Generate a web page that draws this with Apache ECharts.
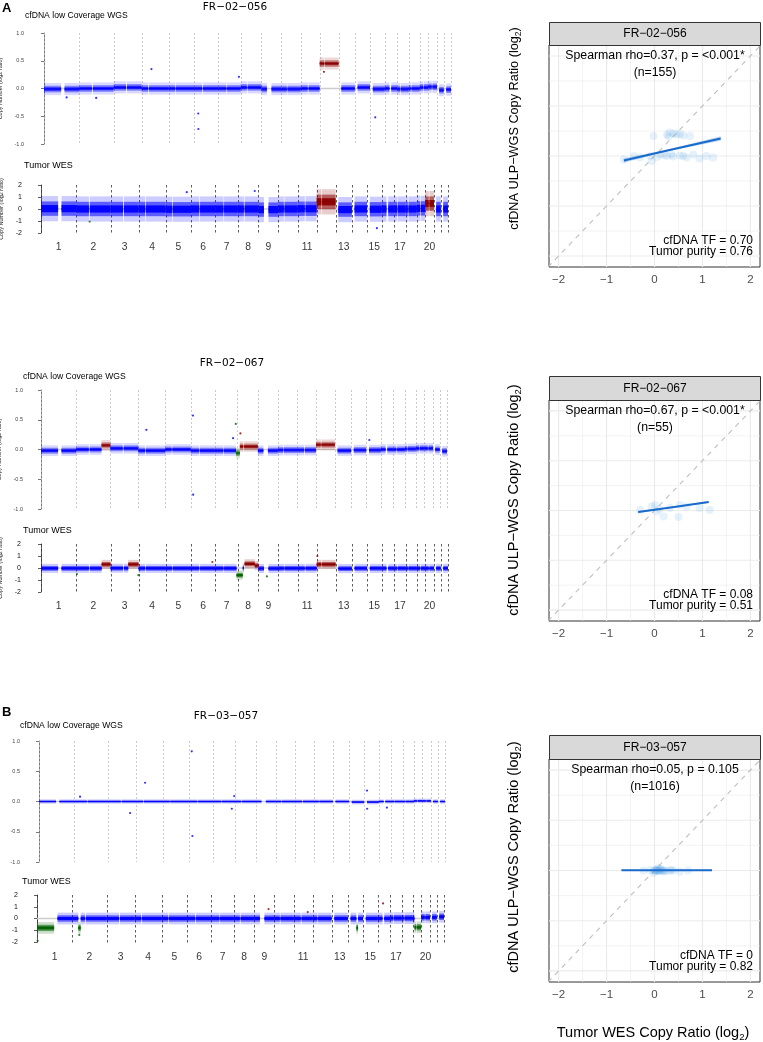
<!DOCTYPE html>
<html><head><meta charset="utf-8">
<script src="https://cdn.jsdelivr.net/npm/echarts@6/dist/echarts.min.js"></script>
<style>html,body{margin:0;padding:0;background:#fff}#c{width:763px;height:1042px}</style>
</head><body><div id="c"></div>
<script>
// ---------------- DATA ----------------
const chromLengths = [249,243,198,191,181,171,159,146,141,136,135,134,115,107,103,90,81,78,59,63,48,51];
const chromArms = [[[0,121],[145,249]],[[0,90],[96,243]],[[0,88],[94,198]],[[0,48],[53,191]],[[0,46],[50,181]],
  [[0,58],[63,171]],[[0,58],[62,159]],[[0,43],[48,146]],[[0,39],[71,141]],[[0,39],[43,136]],[[0,51],[56,135]],
  [[0,34],[38,134]],[[19,115]],[[19,107]],[[20,103]],[[0,35],[47,90]],[[0,22],[26,81]],[[0,15],[19,78]],
  [[0,24],[28,59]],[[0,26],[30,63]],[[15,48]],[[17,51]]];
const chromTickLabels = ['1','2','3','4','5','6','7','8','9','','11','','13','','15','','17','','','20','',''];
const sampleNames = ['FR−02−056','FR−02−067','FR−03−057'];
const panelLetters = ['A','','B'];

// cfDNA low coverage WGS: per-chromosome log2 ratio, altered segments [chr,start,end,value,state], outliers [chr,pos,value,state]
const wgsMeans056 = [-0.01,0,0.02,0,0,0,0,0.02,-0.01,-0.01,0,0,0,0.02,-0.01,0,-0.01,0,0.02,0.03,-0.03,-0.02];
const wgsAlt056 = [[12,0,134,0.45,'gain']];
const wgsOut056 = [[4,70,0.35,'neutral'],[6,29,-0.45,'neutral'],[6,30,-0.73,'neutral'],[7,146,0.21,'neutral'],[15,37,-0.52,'neutral'],[1,160,-0.16,'neutral'],[2,120,-0.17,'neutral'],[12,30,0.3,'gain']];
const wgsMeans067 = [-0.02,0,0.02,-0.02,0,-0.02,-0.02,0,-0.02,-0.01,-0.01,0,-0.02,-0.01,-0.01,0,0,0.01,0.02,0.02,0,-0.03];
const wgsAlt067 = [[2,180,243,0.07,'gain'],[7,150,159,-0.06,'loss'],[8,0,18,-0.06,'loss'],[8,18,146,0.05,'gain'],[12,0,134,0.08,'gain']];
const wgsOut067 = [[4,57,0.33,'neutral'],[6,16,0.57,'neutral'],[6,17,-0.76,'neutral'],[7,148,0.43,'loss'],[7,129,0.19,'neutral'],[8,22,0.27,'gain'],[15,22,0.16,'neutral']];
const wgsMeans057 = [0,0,0,0,0,0,0,0,0,0,0,0,0,-0.01,-0.01,0,0,0,0.01,0.01,0,0];
const wgsAlt057 = [];
const wgsOut057 = [[6,21,0.83,'neutral'],[6,26,-0.57,'neutral'],[4,62,0.31,'neutral'],[3,154,-0.19,'neutral'],[7,134,-0.12,'neutral'],[7,151,0.09,'neutral'],[15,20,0.18,'neutral'],[15,21,-0.12,'neutral'],[16,58,-0.1,'neutral'],[2,42,0.08,'neutral']];

// Tumor WES
const wesMeans056 = [0.03,0,0,0,-0.02,0,0,0,-0.05,0,0.02,0,-0.05,0,-0.02,0,0,0,0.05,0,0,0];
const wesAlt056 = [[12,0,134,0.6,'gain'],[20,0,63,0.45,'gain']];
const wesOut056 = [[2,98,-2.1,'neutral'],[2,95,-1.05,'loss'],[5,150,1.4,'neutral'],[8,120,1.5,'neutral'],[15,70,-1.6,'neutral']];
const wesMeans067 = [-0.03,-0.03,-0.02,-0.03,-0.03,-0.03,-0.03,0,-0.04,-0.03,-0.03,0,-0.05,-0.03,-0.03,-0.03,-0.03,-0.03,-0.03,-0.03,-0.03,-0.03];
const wesAlt067 = [[2,180,243,0.3,'gain'],[3,125,198,0.3,'gain'],[7,150,159,-0.6,'loss'],[8,0,35,-0.6,'loss'],[8,48,120,0.35,'gain'],[8,120,146,0.2,'gain'],[12,0,134,0.3,'gain']];
const wesOut067 = [[2,5,-0.5,'loss'],[3,197,-0.6,'loss'],[9,60,-0.7,'loss'],[12,5,1.0,'gain'],[6,150,0.5,'gain']];
const wesMeans057 = [0,0,0,0,0,0,0,0,0,0,0,0,0,0,0,0,0.03,0.03,0,0.1,0.1,0.15];
const wesAlt057 = [[1,0,121,-0.8,'loss'],[2,43,60,-0.8,'loss'],[14,60,72,-0.8,'loss'],[19,12,59,-0.75,'loss']];
const wesOut057 = [[16,39,1.28,'gain'],[9,100,0.8,'gain'],[11,100,0.55,'gain'],[1,5,-1.9,'loss'],[2,50,-1.4,'loss']];

// spread of the point clouds around the segment value [dense, medium, sparse] in log2 units
const wgsSpread = [[0.03,0.06,0.11],[0.025,0.05,0.09],[0.01,0.02,0.04]];
const wesSpread = [[0.3,0.6,1.05],[0.1,0.2,0.38],[0.13,0.27,0.5]];

// right panels: Tumor WES (x) vs cfDNA ULP-WGS (y) copy ratio
const corr056 = [[0.26,0.43],[0.32,0.47],[0.46,0.43],[0.6,0.41],[0.74,0.4],[-0.02,0.4],[0.29,0.39],[0.4,0.45],[0.53,0.44],
  [-0.09,0],[0.12,0.03],[0.26,0],[0.39,-0.01],[0.53,0.01],[0.67,-0.03],[0.94,-0.05],[1.08,0],[1.22,-0.03],[-0.43,0],
  [-0.3,-0.03],[-0.64,-0.07],[-0.06,-0.1],[0.81,0.03],[0.05,-0.02],[0.2,0.02],[0.35,0.03],[0.6,0.0]];
const corr067 = [[-0.3,0.01],[-0.06,0.08],[0.05,-0.02],[0.19,-0.12],[0.32,0.05],[0.53,0.11],[0.5,-0.13],[0.67,0.08],[0.94,0.05],[1.15,0.01],[0.01,0.11],[0.1,0.03]];
const corr057 = [[-0.23,0],[-0.09,0.01],[0.05,0],[0.12,0.03],[0.19,-0.02],[0.32,0],[0.53,-0.02],[0.7,0],[-0.02,-0.05],[0.08,0.05],
  [0.03,0],[0.06,0.01],[0.04,-0.01],[0.1,0],[0.01,0.01],[0.15,0.01],[0.2,0],[0.25,-0.01],[0.35,0.01],[0.4,0],[0.08,0],[0.12,-0.01],[0.0,0.0],[0.17,0]];
const fitX = [[-0.64,0.2,1.38],[-0.34,0.3,1.13],[-0.69,0.1,1.2]];
const fitY = [[-0.09,0.093,0.35],[-0.03,0.057,0.17],[0.005,0.005,0.005]];
const fitCI = [[0.045,0.015,0.045],[0.02,0.01,0.02],[0.012,0.006,0.012]];
const corrTicks = [-2,-1,0,1,2];
const corrGrid = [-2,-1.5,-1,-0.5,0,0.5,1,1.5,2];
const statLines = [['Spearman rho=0.37, p = <0.001*','(n=155)'],['Spearman rho=0.67, p = <0.001*','(n=55)'],['Spearman rho=0.05, p = 0.105','(n=1016)']];
const tfLines = [['cfDNA TF = 0.70','Tumor purity = 0.76'],['cfDNA TF = 0.08','Tumor purity = 0.51'],['cfDNA TF = 0','Tumor purity = 0.82']];

// ---------------- BUILD ----------------
const offsets = []; let acc = 0;
chromLengths.forEach(l => { offsets.push(acc); acc += l; });
const genomeLen = acc;
const boundaries = offsets.concat([genomeLen]);
const centers = chromLengths.map((l, i) => offsets[i] + l / 2);
const stateNames = ['neutral','gain','loss'];
const stateColors = ['#0000FF','#8B0000','#006400'];

function buildSegments(means, alts) {
  const segs = [];
  chromArms.forEach((arms, ci) => {
    const chr = ci + 1;
    const a = alts.filter(s => s[0] === chr).sort((p, q) => p[1] - q[1]);
    arms.forEach(([s, e]) => {
      let cur = s;
      a.forEach(([, as, ae, am, st]) => {
        const os = Math.max(as, cur), oe = Math.min(ae, e);
        if (oe <= os) return;
        if (os > cur) segs.push([offsets[ci] + cur, offsets[ci] + os, means[ci], 0]);
        segs.push([offsets[ci] + os, offsets[ci] + oe, am, stateNames.indexOf(st)]);
        cur = oe;
      });
      if (cur < e) segs.push([offsets[ci] + cur, offsets[ci] + e, means[ci], 0]);
    });
  });
  return segs;
}

const FONT = 'Liberation Sans, Arial, sans-serif';
const L = {
  wgs: [{left:44,top:33,width:407,height:111,axisX:26},{left:41,top:390,width:406,height:119,axisX:25},{left:39,top:741,width:406,height:121,axisX:22}],
  wes: [{left:41,top:185,width:407,height:48,axisX:25},{left:41,top:544,width:407,height:48,axisX:24},{left:37,top:895,width:407,height:47,axisX:21}],
  corr: [{top:45,height:222,head:22},{top:400,height:221,head:376},{top:759,height:223,head:735}],
  yTitle: [{y:128.5,size:12.7},{y:500,size:14.5},{y:857,size:14.5}],
  labOff: [14,14,15],
  title: [{x:235,y:7},{x:232,y:363},{x:226,y:716}],
  letter: [{x:2,y:8},null,{x:2,y:712}],
  wgsTitle: [{x:25,y:16},{x:23,y:377},{x:20,y:726}],
  wesTitle: [{x:24,y:166},{x:23,y:531},{x:22,y:882}]
};
const rowsData = [
  {wgsMeans:wgsMeans056,wgsAlt:wgsAlt056,wgsOut:wgsOut056,wesMeans:wesMeans056,wesAlt:wesAlt056,wesOut:wesOut056,corr:corr056},
  {wgsMeans:wgsMeans067,wgsAlt:wgsAlt067,wgsOut:wgsOut067,wesMeans:wesMeans067,wesAlt:wesAlt067,wesOut:wesOut067,corr:corr067},
  {wgsMeans:wgsMeans057,wgsAlt:wgsAlt057,wgsOut:wgsOut057,wesMeans:wesMeans057,wesAlt:wesAlt057,wesOut:wesOut057,corr:corr057}
];

const grid = [], xAxis = [], yAxis = [], series = [], graphic = [];

function bandSeries(gi, segs, spread, ops) {
  return {
    type: 'custom', xAxisIndex: gi, yAxisIndex: gi, clip: true, z: 3, silent: true,
    data: segs, encode: { x: [0, 1], y: 2 },
    renderItem: (params, api) => {
      const x0 = api.value(0), x1 = api.value(1), m = api.value(2), col = stateColors[api.value(3)];
      const rect = (h, op) => {
        const a = api.coord([x0, m + h]), b = api.coord([x1, m - h]);
        return { type: 'rect', shape: { x: a[0], y: a[1], width: Math.max(b[0] - a[0], 1), height: b[1] - a[1] }, style: { fill: col, opacity: op } };
      };
      const p = api.coord([x0, m]), q = api.coord([x1, m]);
      return { type: 'group', children: [rect(spread[2], ops[2]), rect(spread[1], ops[1]), rect(spread[0], ops[0]),
        { type: 'line', shape: { x1: p[0], y1: p[1], x2: q[0], y2: q[1] }, style: { stroke: col, lineWidth: 1 } }] };
    }
  };
}
function boundarySeries(gi, yTop, yBot, color, dash) {
  return {
    type: 'custom', xAxisIndex: gi, yAxisIndex: gi, clip: false, z: 1, silent: true,
    data: boundaries.map(b => [b]), encode: { x: 0 },
    renderItem: (params, api) => {
      const a = api.coord([api.value(0), yTop]), b = api.coord([api.value(0), yBot]);
      return { type: 'line', shape: { x1: Math.round(a[0]) + 0.5, y1: a[1], x2: Math.round(a[0]) + 0.5, y2: b[1] }, style: { stroke: color, lineWidth: 0.8, lineDash: dash } };
    }
  };
}
function outlierSeries(gi, pts) {
  return {
    type: 'scatter', xAxisIndex: gi, yAxisIndex: gi, z: 4, silent: true, symbolSize: 2.2,
    data: pts.map(p => ({ value: [offsets[p[0] - 1] + p[1], p[2]], itemStyle: { color: stateColors[stateNames.indexOf(p[3])] } }))
  };
}
function baselineSeries(gi) {
  return { type: 'line', xAxisIndex: gi, yAxisIndex: gi, z: 2, silent: true, symbol: 'none',
    data: [[0, 0], [genomeLen, 0]], lineStyle: { color: '#CCCCCC', width: 1.5 } };
}
function txt(x, y, text, size, align, extra) {
  return Object.assign({ type: 'text', z: 50, x, y,
    style: { text, fontSize: size, fontFamily: FONT, fill: '#000', align, verticalAlign: 'middle' } }, extra || {});
}

rowsData.forEach((rd, r) => {
  const gW = r * 3, gE = r * 3 + 1, gC = r * 3 + 2;
  // ---- cfDNA WGS panel
  const lw = L.wgs[r];
  grid.push({ left: lw.left, top: lw.top, width: lw.width, height: lw.height, outerBoundsMode: 'none' });
  xAxis.push({ gridIndex: gW, type: 'value', min: 0, max: genomeLen, show: false });
  yAxis.push({ gridIndex: gW, type: 'value', min: -1, max: 1, interval: 0.5, offset: lw.left - lw.axisX,
    axisLine: { show: true, lineStyle: { color: '#555', width: 0.8 } },
    axisTick: { show: true, length: 3, lineStyle: { color: '#555', width: 0.8 } },
    axisLabel: { fontSize: 5.5, color: '#444', margin: 2, fontFamily: FONT, formatter: v => v.toFixed(1) },
    splitLine: { show: false },
    name: 'Copy Number (log2 ratio)', nameLocation: 'middle', nameGap: 15,
    nameTextStyle: { fontSize: 5.5, color: '#222', fontFamily: FONT } });
  series.push(boundarySeries(gW, 1, -1, '#BDBDBD', [2, 2]));
  series.push(baselineSeries(gW));
  series.push(bandSeries(gW, buildSegments(rd.wgsMeans, rd.wgsAlt), wgsSpread[r], [0.75, 0.4, 0.15]));
  series.push(outlierSeries(gW, rd.wgsOut));

  // ---- Tumor WES panel
  const le = L.wes[r];
  grid.push({ left: le.left, top: le.top, width: le.width, height: le.height, outerBoundsMode: 'none' });
  xAxis.push({ gridIndex: gE, type: 'value', min: 0, max: genomeLen, show: false });
  yAxis.push({ gridIndex: gE, type: 'value', min: -2, max: 2, interval: 1, offset: le.left - le.axisX,
    axisLine: { show: true, lineStyle: { color: '#333', width: 0.8 } },
    axisTick: { show: true, length: 3, lineStyle: { color: '#333', width: 0.8 } },
    axisLabel: { fontSize: 7, color: '#111', margin: 3, fontFamily: FONT },
    splitLine: { show: false },
    name: 'Copy Number (log2 ratio)', nameLocation: 'middle', nameGap: 12,
    nameTextStyle: { fontSize: 5.5, color: '#222', fontFamily: FONT } });
  series.push(boundarySeries(gE, 2, -2.15, '#333333', [2.5, 2.5]));
  series.push(baselineSeries(gE));
  series.push(bandSeries(gE, buildSegments(rd.wesMeans, rd.wesAlt), wesSpread[r], [0.95, 0.55, 0.2]));
  series.push(outlierSeries(gE, rd.wesOut));
  series.push({ type: 'scatter', xAxisIndex: gE, yAxisIndex: gE, symbolSize: 0, silent: true, z: 5,
    data: centers.map(c => [c, -2]),
    label: { show: true, position: 'inside', offset: [0, L.labOff[r]], fontSize: 10.3, color: '#000', fontFamily: FONT,
      formatter: p => chromTickLabels[p.dataIndex] } });

  // ---- correlation panel
  const lc = L.corr[r];
  grid.push({ left: 549, top: lc.top, width: 211, height: lc.height, outerBoundsMode: 'none',
    show: true, borderColor: '#333', borderWidth: 1, backgroundColor: 'transparent' });
  xAxis.push({ gridIndex: gC, type: 'value', min: -2.2, max: 2.2,
    axisLine: { show: false }, splitLine: { show: false },
    axisTick: { show: true, customValues: corrTicks, length: 3, lineStyle: { color: '#333' } },
    axisLabel: { customValues: corrTicks, fontSize: 11.5, color: '#4D4D4D', margin: 7, fontFamily: FONT,
      formatter: v => v < 0 ? '−' + Math.abs(v) : String(v) } });
  yAxis.push({ gridIndex: gC, type: 'value', min: -2.22, max: 2.22,
    axisLine: { show: false }, axisTick: { show: false }, axisLabel: { show: false }, splitLine: { show: false } });
  series.push({ type: 'custom', xAxisIndex: gC, yAxisIndex: gC, clip: true, z: 1, silent: true,
    data: corrGrid.map(v => [v]), encode: { x: 0 },
    renderItem: (params, api) => {
      const v = api.value(0), cs = params.coordSys;
      const px = api.coord([v, 0])[0], py = api.coord([0, v])[1];
      const major = Number.isInteger(v);
      const st = { stroke: '#EBEBEB', lineWidth: major ? 1.2 : 0.6 };
      return { type: 'group', children: [
        { type: 'line', shape: { x1: px, y1: cs.y, x2: px, y2: cs.y + cs.height }, style: st },
        { type: 'line', shape: { x1: cs.x, y1: py, x2: cs.x + cs.width, y2: py }, style: st }] };
    } });
  series.push({ type: 'line', xAxisIndex: gC, yAxisIndex: gC, z: 2, silent: true, symbol: 'none',
    data: [[-2.22, -2.22], [2.22, 2.22]], lineStyle: { color: '#BEBEBE', width: 1.1, type: [5, 5] } });
  series.push({ type: 'scatter', xAxisIndex: gC, yAxisIndex: gC, z: 3, silent: true, symbolSize: 8,
    data: rd.corr, itemStyle: { color: '#5DA5E8', opacity: 0.16 } });
  series.push({ type: 'custom', xAxisIndex: gC, yAxisIndex: gC, z: 4, silent: true, clip: true,
    data: [[0]], encode: { x: 0 },
    renderItem: (params, api) => {
      const fx = fitX[r], fy = fitY[r], ci = fitCI[r];
      const up = fx.map((x, i) => api.coord([x, fy[i] + ci[i]]));
      const lo = fx.map((x, i) => api.coord([x, fy[i] - ci[i]])).reverse();
      return { type: 'polygon', shape: { points: up.concat(lo) }, style: { fill: '#6FA8E6', opacity: 0.45 } };
    } });
  series.push({ type: 'line', xAxisIndex: gC, yAxisIndex: gC, z: 5, silent: true, symbol: 'none',
    data: fitX[r].map((x, i) => [x, fitY[r][i]]), lineStyle: { color: '#1A6ACB', width: 2 } });

  // header strip and annotations
  graphic.push({ type: 'rect', z: 40, shape: { x: 549.5, y: lc.head + 0.5, width: 211, height: lc.top - lc.head },
    style: { fill: '#D9D9D9', stroke: '#333', lineWidth: 1 } });
  graphic.push(txt(655, (lc.head + lc.top) / 2 + 0.5, sampleNames[r], 12, 'center'));
  graphic.push(txt(655, lc.top + 11, statLines[r][0], 12.3, 'center'));
  graphic.push(txt(655, lc.top + 27.5, statLines[r][1], 12.3, 'center'));
  graphic.push(txt(753, lc.top + lc.height - 26.5, tfLines[r][0], 12, 'right'));
  graphic.push(txt(753, lc.top + lc.height - 15, tfLines[r][1], 12, 'right'));
  const ys = L.yTitle[r].size;
  graphic.push({ type: 'text', z: 50, x: 514, y: L.yTitle[r].y, rotation: Math.PI / 2,
    style: { text: '{a|cfDNA ULP−WGS Copy Ratio (log}{s|2}{a|)}', align: 'center', verticalAlign: 'middle',
      rich: { a: { fontSize: ys, fontFamily: FONT, fill: '#000', lineHeight: ys + 4 },
              s: { fontSize: ys * 0.66, fontFamily: FONT, fill: '#000', lineHeight: ys + 4, verticalAlign: 'bottom', padding: [ys * 0.45, 0, 0, 0] } } } });

  // left titles
  graphic.push(txt(L.title[r].x, L.title[r].y, sampleNames[r], 10.5, 'center', { style: { text: sampleNames[r], fontSize: 10.5, fontFamily: 'DejaVu Sans', fill: '#000', align: 'center', verticalAlign: 'middle' } }));
  graphic.push(txt(L.wgsTitle[r].x, L.wgsTitle[r].y, 'cfDNA low Coverage WGS', 8.6, 'left'));
  graphic.push(txt(L.wesTitle[r].x, L.wesTitle[r].y, 'Tumor WES', 9, 'left'));
  if (panelLetters[r]) graphic.push(txt(L.letter[r].x, L.letter[r].y, panelLetters[r], 13, 'left',
    { style: { text: panelLetters[r], fontSize: 13, fontWeight: 'bold', fontFamily: FONT, fill: '#000', align: 'left', verticalAlign: 'middle' } }));
});
graphic.push({ type: 'text', z: 50, x: 653, y: 1033,
  style: { text: '{a|Tumor WES Copy Ratio (log}{s|2}{a|)}', align: 'center', verticalAlign: 'middle',
    rich: { a: { fontSize: 14.5, fontFamily: FONT, fill: '#000', lineHeight: 18 },
            s: { fontSize: 9.5, fontFamily: FONT, fill: '#000', lineHeight: 18, verticalAlign: 'bottom', padding: [6.5, 0, 0, 0] } } } });

const chart = echarts.init(document.getElementById('c'), null, { renderer: 'canvas' });
chart.setOption({ animation: false, backgroundColor: '#fff', grid, xAxis, yAxis, series, graphic });
</script>
</body></html>
